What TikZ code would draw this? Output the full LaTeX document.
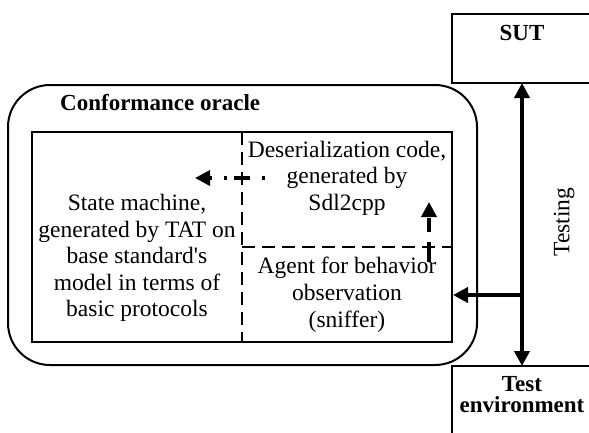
\documentclass[tikz,border=0pt]{standalone}
\usepackage{fontspec}
\setmainfont{Liberation Serif}
\usetikzlibrary{arrows.meta}
\begin{document}
\begin{tikzpicture}[x=1pt,y=-1pt,
  txt/.style={font=\fontsize{23.5}{26.5}\selectfont, align=center, inner sep=0pt},
  btxt/.style={font=\fontsize{23}{26}\selectfont\bfseries, align=center, inner sep=0pt},
  tip/.style={-{Triangle[length=15pt,width=15pt]}},
  thick arrow/.style={line width=4.5pt, tip},
  box/.style={draw, line width=2pt}]
\useasboundingbox (0,0) rectangle (589,432);
% outer oracle
\draw[line width=2pt, rounded corners=42pt] (8,85) rectangle (477,365);
\node[btxt, anchor=west] (oracle) at (60,103) {Conformance oracle};
% inner rect
\draw[box] (32,132) rectangle (452,342);
\draw[line width=2pt, dash pattern=on 13pt off 7pt] (242,132) -- (242,342);
\draw[line width=2pt, dash pattern=on 13pt off 7pt] (242,247) -- (452,247);
% texts
\node[txt] (sm) at (137,258) {State machine,\\generated by TAT on\\base standard\textquotesingle s\\model in terms of\\basic protocols};
\node[txt] (des) at (347,178) {Deserialization code,\\generated by\\Sdl2cpp};
\node[txt] (agent) at (347,279) {Agent for behavior\\observation};
\node[txt] (sniff) at (347,322) {(sniffer)};
% SUT and Test env
\draw[box] (452,14) rectangle (600,83);
\node[btxt] (sut) at (522,33) {SUT};
\draw[box] (452,366) rectangle (600,440);
\node[btxt, font=\fontsize{23}{21}\selectfont\bfseries] (env) at (522,395) {Test\\environment};
\coordinate (sutb) at (522,83);
\coordinate (envt) at (522,366);
\coordinate (branch) at (522,295);
\coordinate (agentr) at (453,295);
\draw[line width=4.5pt, {Triangle[length=15pt,width=15pt]}-{Triangle[length=15pt,width=15pt]}] (sutb) -- (envt);
\draw[thick arrow] (branch) -- (agentr);
\node[font=\fontsize{23.5}{26}\selectfont, rotate=90, inner sep=0pt] (testing) at (564,222) {Testing};
% dashed arrows
\coordinate (la) at (265,178);
\coordinate (lb) at (195,178);
\draw[line width=3.5pt, dash pattern=on 3pt off 12pt on 16pt off 7pt, tip] (la) -- (lb);
\coordinate (ua) at (429,262);
\coordinate (ub) at (429,202);
\draw[line width=3.5pt, dash pattern=on 20pt off 10pt on 14pt off 8pt, tip] (ua) -- (ub);
\end{tikzpicture}
\end{document}
